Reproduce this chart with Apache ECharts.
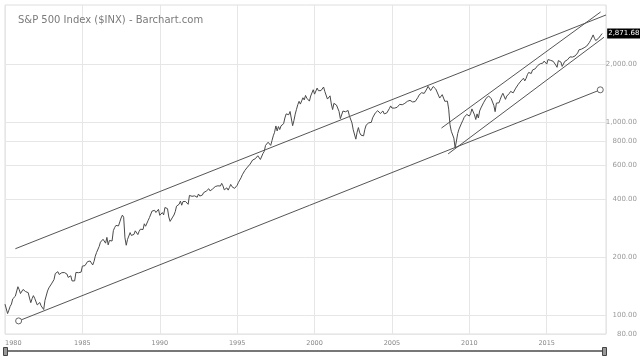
<!DOCTYPE html>
<html>
<head>
<meta charset="utf-8">
<script src="https://cdn.jsdelivr.net/npm/echarts@6/dist/echarts.min.js"></script>
<style>
html,body{margin:0;padding:0;background:#fff;}
#c{width:640px;height:360px;}
</style>
</head>
<body>
<div id="c"></div>
<script>
// Monthly S&P 500 closes, starting January 1980
var startYear = 1980;
var sp500Monthly = [
114.16,113.66,102.09,106.29,111.24,114.24,121.67,122.38,125.46,127.47,140.52,135.76,
129.55,131.27,136.00,132.81,132.59,131.21,130.92,122.79,116.18,121.89,126.35,122.55,
120.40,113.11,111.96,116.44,111.88,109.61,107.09,119.51,120.42,133.71,138.54,140.64,
145.30,148.06,152.96,164.42,162.39,168.11,162.56,164.40,166.07,163.55,166.40,164.93,
163.41,157.06,159.18,160.05,150.55,153.18,150.66,166.68,166.10,166.09,163.58,167.24,
179.63,181.18,180.66,179.83,189.55,191.85,190.92,188.63,182.08,189.82,202.17,211.28,
211.78,226.92,238.90,235.52,247.35,250.84,236.12,252.93,231.32,243.98,249.22,242.17,
274.08,284.20,291.70,288.36,290.10,304.00,318.66,329.80,321.83,251.79,230.30,247.08,
257.07,267.82,258.89,261.33,262.16,273.50,272.02,261.52,271.91,278.97,273.70,277.72,
297.47,288.86,294.87,309.64,320.52,317.98,346.08,351.45,349.15,340.36,345.99,353.40,
329.08,331.89,339.94,330.80,361.23,358.02,356.15,322.56,306.05,304.00,322.22,330.22,
343.93,367.07,375.22,375.35,389.83,371.16,387.81,395.43,387.86,392.46,375.22,417.09,
408.79,412.70,403.69,414.95,415.35,408.14,424.21,414.03,417.80,418.68,431.35,435.71,
438.78,443.38,451.67,440.19,450.19,450.53,448.13,463.56,458.93,467.83,461.79,466.45,
481.61,467.14,445.77,450.91,456.50,444.27,458.26,475.49,462.69,472.35,453.69,459.27,
470.42,487.39,500.71,514.71,533.40,544.75,562.06,561.88,584.41,581.50,605.37,615.93,
636.02,640.43,645.50,654.17,669.12,670.63,639.95,651.99,687.31,705.27,757.02,740.74,
786.16,790.82,757.12,801.34,848.28,885.14,954.29,899.47,947.28,914.62,955.40,970.43,
980.28,1049.34,1101.75,1111.75,1090.82,1133.84,1120.67,957.28,1017.01,1098.67,1163.63,1229.23,
1279.64,1238.33,1286.37,1335.18,1301.84,1372.71,1328.72,1320.41,1282.71,1362.93,1388.91,1469.25,
1394.46,1366.42,1498.58,1452.43,1420.60,1454.60,1430.83,1517.68,1436.51,1429.40,1314.95,1320.28,
1366.01,1239.94,1160.33,1249.46,1255.82,1224.42,1211.23,1133.58,1040.94,1059.78,1139.45,1148.08,
1130.20,1106.73,1147.39,1076.92,1067.14,989.82,911.62,916.07,815.28,885.76,936.31,879.82,
855.70,841.15,848.18,916.92,963.59,974.50,990.31,1008.01,995.97,1050.71,1058.20,1111.92,
1131.13,1144.94,1126.21,1107.30,1120.68,1140.84,1101.72,1104.24,1114.58,1130.20,1173.82,1211.92,
1181.27,1203.60,1180.59,1156.85,1191.50,1191.33,1234.18,1220.33,1228.81,1207.01,1249.48,1248.29,
1280.08,1280.66,1294.83,1310.61,1270.09,1270.20,1276.66,1303.82,1335.85,1377.94,1400.63,1418.30,
1438.24,1406.82,1420.86,1482.37,1530.62,1503.35,1455.27,1473.99,1526.75,1549.38,1481.14,1468.36,
1378.55,1330.63,1322.70,1385.59,1400.38,1280.00,1267.38,1282.83,1166.36,968.75,896.24,903.25,
825.88,735.09,797.87,872.81,919.14,919.32,987.48,1020.62,1057.08,1036.19,1095.63,1115.10,
1073.87,1104.49,1169.43,1186.69,1089.41,1030.71,1101.60,1049.33,1141.20,1183.26,1180.55,1257.64,
1286.12,1327.22,1325.83,1363.61,1345.20,1320.64,1292.28,1218.89,1131.42,1253.30,1246.96,1257.60,
1312.41,1365.68,1408.47,1397.91,1310.33,1362.16,1379.32,1406.58,1440.67,1412.16,1416.18,1426.19,
1498.11,1514.68,1569.19,1597.57,1630.74,1606.28,1685.73,1632.97,1681.55,1756.54,1805.81,1848.36,
1782.59,1859.45,1872.34,1883.95,1923.57,1960.23,1930.67,2003.37,1972.29,2018.05,2067.56,2058.90,
1994.99,2104.50,2067.89,2085.51,2107.39,2063.11,2103.84,1972.18,1920.03,2079.36,2080.41,2043.94,
1940.24,1932.23,2059.74,2065.30,2096.95,2098.86,2173.60,2170.95,2168.27,2126.15,2198.81,2238.83,
2278.87,2363.64,2362.72,2384.20,2411.80,2423.41,2470.30,2471.65,2519.36,2575.26,2647.58,2673.61,
2823.81,2713.83,2640.87,2648.05,2705.27,2718.37,2816.29,2871.68
];
var lastPrice = 2871.68;

// Trend lines: [year, price] endpoints
var upperTrend = [[1980.67, 221], [2018.83, 3581]];
var lowerTrend = [[1980.88, 93.5], [2018.46, 1468]];
var channelUpper = [[2008.20, 931], [2018.48, 3710]];
var channelLower = [[2008.63, 684], [2018.70, 2747]];

// Axis settings
var yTicks = [80, 100, 200, 400, 600, 800, 1000, 2000];
var yMin = 80, yMax = 4033;
var xMin = 1980, xMax = 2018.83, xInterval = 5;

var L = Math.log10;
function toPts(arr) { return arr.map(function (p) { return [p[0], L(p[1])]; }); }
var mainData = sp500Monthly.map(function (v, i) { return [startYear + i / 12, L(v)]; });
var lastPt = mainData[mainData.length - 1];

function fmtPrice(v) {
  return v.toLocaleString('en-US', {minimumFractionDigits: 2, maximumFractionDigits: 2});
}

var FONT = 'DejaVu Sans';
var lineColor = '#4a4a4a';
var chart = echarts.init(document.getElementById('c'), null, {renderer: 'canvas'});
chart.setOption({
  animation: false,
  backgroundColor: '#fff',
  title: {
    text: 'S&P 500 Index ($INX) - Barchart.com',
    left: 13, top: 10,
    textStyle: {color: '#7a7a7a', fontSize: 10, fontWeight: 'normal', fontFamily: FONT}
  },
  grid: {left: 5, right: 34, top: 5, bottom: 26, show: true, borderColor: '#dedede', borderWidth: 1, backgroundColor: 'transparent'},
  xAxis: {
    type: 'value', min: xMin, max: xMax, interval: xInterval,
    axisLine: {show: false}, axisTick: {show: false},
    splitLine: {show: true, lineStyle: {color: '#e6e6e6', width: 1}},
    axisLabel: {
      fontSize: 6.5, color: '#888', fontFamily: FONT, margin: 6,
      showMaxLabel: false, alignMinLabel: 'left',
      formatter: function (v) { return String(Math.round(v)); }
    }
  },
  yAxis: {
    type: 'value', position: 'right', min: L(yMin), max: L(yMax),
    axisLine: {show: false},
    axisTick: {show: false, customValues: yTicks.map(L)},
    splitLine: {show: true, lineStyle: {color: '#e6e6e6', width: 1}},
    axisLabel: {
      customValues: yTicks.map(L),
      fontSize: 7, color: '#999', fontFamily: FONT, align: 'right', margin: 31,
      formatter: function (v) { return fmtPrice(Math.round(Math.pow(10, v))); }
    }
  },
  series: [
    {
      type: 'line', data: mainData, showSymbol: false, symbol: 'none',
      lineStyle: {color: lineColor, width: 1}, z: 3,
      markPoint: {
        symbol: 'circle', symbolSize: 0,
        data: [{coord: lastPt, value: lastPrice}],
        label: {
          show: true, position: 'right', distance: 5,
          formatter: function () { return fmtPrice(lastPrice); },
          backgroundColor: '#000', color: '#fff', fontSize: 7, fontFamily: FONT,
          padding: [2, 1, 1, 1]
        }
      }
    },
    {type: 'line', data: toPts(upperTrend), showSymbol: false, symbol: 'none', lineStyle: {color: '#555', width: 1}},
    {type: 'line', data: toPts(lowerTrend), symbol: 'circle', symbolSize: 6, showSymbol: true,
      itemStyle: {color: '#fff', borderColor: '#666', borderWidth: 1}, lineStyle: {color: '#555', width: 1}},
    {type: 'line', data: toPts(channelUpper), showSymbol: false, symbol: 'none', lineStyle: {color: '#555', width: 1}},
    {type: 'line', data: toPts(channelLower), showSymbol: false, symbol: 'none', lineStyle: {color: '#555', width: 1}}
  ],
  graphic: [
    {type: 'line', shape: {x1: 5, y1: 351, x2: 605, y2: 351}, style: {stroke: '#777', lineWidth: 2}, silent: true},
    {type: 'rect', shape: {x: 3.5, y: 347.5, width: 4, height: 8}, style: {fill: '#999', stroke: '#444', lineWidth: 1}, silent: true},
    {type: 'rect', shape: {x: 602.5, y: 347.5, width: 4, height: 8}, style: {fill: '#999', stroke: '#444', lineWidth: 1}, silent: true}
  ]
});
</script>
</body>
</html>
